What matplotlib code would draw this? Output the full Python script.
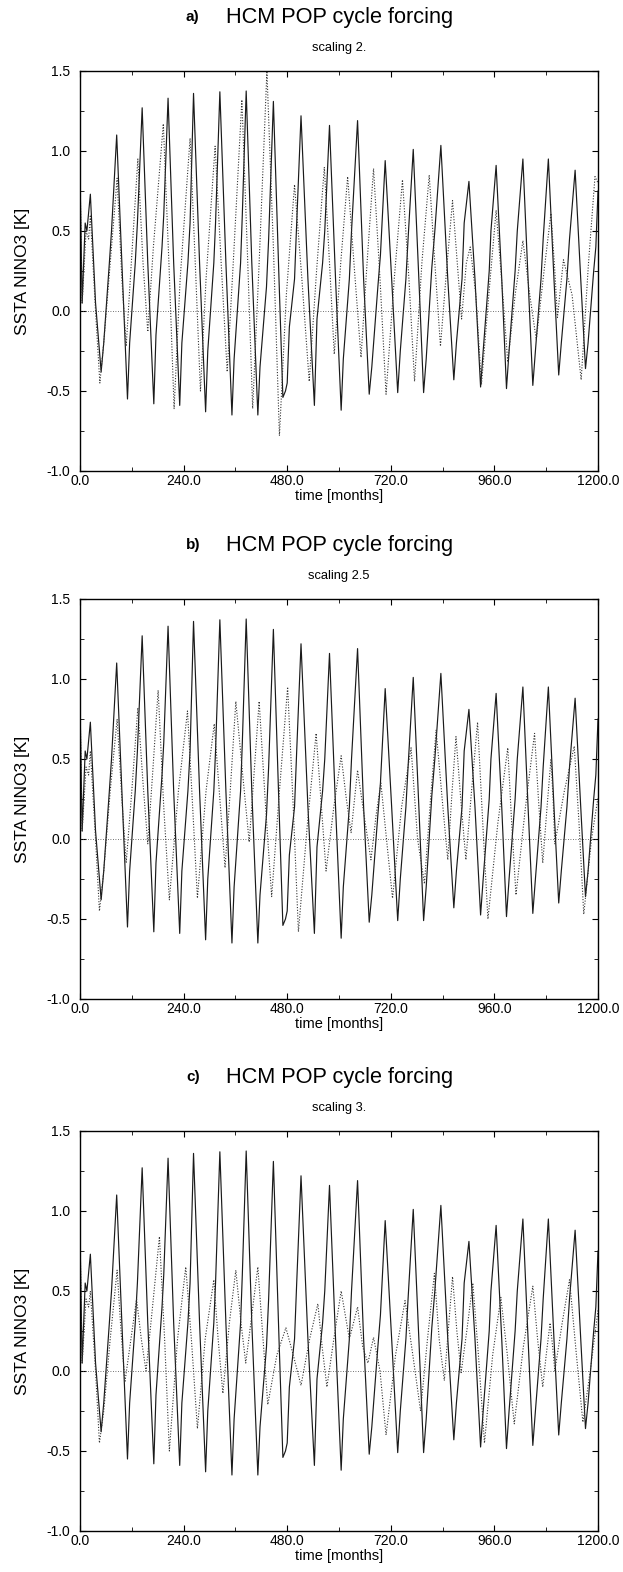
import numpy as np
import matplotlib
matplotlib.use('Agg')
import matplotlib.pyplot as plt
from matplotlib.ticker import MultipleLocator, FormatStrFormatter

plt.rcParams['font.family'] = ['Liberation Sans', 'DejaVu Sans']
plt.rcParams['axes.unicode_minus'] = False

# solid curve (same in all three panels): key points
solid_months = [0, 5, 12, 16, 24, 36, 49, 55, 68, 73, 85, 97, 110, 115, 128, 133, 144, 157,
                171, 176, 190, 194, 204, 217, 231, 236, 250, 255, 263, 277, 291, 296, 310, 314,
                324, 338, 352, 357, 372, 376, 385, 398, 412, 417, 432, 437, 448, 461, 470, 476,
                480, 485, 497, 502, 512, 528, 543, 549, 562, 567, 578, 592, 605, 610, 624, 629,
                643, 657, 670, 676, 690, 696, 707, 722, 736, 742, 755, 760, 772, 785, 796, 802,
                815, 822, 836, 852, 866, 872, 885, 890, 901, 915, 928, 934, 948, 952, 964, 977,
                988, 994, 1008, 1013, 1026, 1038, 1049, 1055, 1068, 1073, 1085, 1098, 1109, 1115,
                1128, 1134, 1147, 1160, 1171, 1177, 1190, 1195, 1200]
solid_ssta = [0.85, 0.05, 0.55, 0.5, 0.73, 0.05, -0.38, -0.2, 0.3, 0.5, 1.1, 0.3, -0.55, -0.2,
              0.3, 0.55, 1.27, 0.3, -0.58, -0.15, 0.4, 0.6, 1.33, 0.3, -0.59, -0.2, 0.3, 0.55,
              1.36, 0.3, -0.63, -0.25, 0.3, 0.55, 1.37, 0.3, -0.65, -0.3, 0.3, 0.6, 1.375, 0.3,
              -0.65, -0.35, 0.15, 0.45, 1.31, 0.2, -0.54, -0.5, -0.45, -0.1, 0.2, 0.55, 1.22,
              0.2, -0.59, -0.05, 0.3, 0.5, 1.16, 0.2, -0.62, -0.3, 0.2, 0.5, 1.19, 0.2, -0.52,
              -0.35, 0.15, 0.35, 0.94, 0.2, -0.51, -0.25, 0.2, 0.45, 1.01, 0.2, -0.51, -0.3,
              0.27, 0.5, 1.035, 0.2, -0.43, -0.2, 0.2, 0.55, 0.81, 0.2, -0.475, -0.25, 0.25,
              0.5, 0.91, 0.2, -0.485, -0.25, 0.25, 0.5, 0.95, 0.2, -0.465, -0.25, 0.2, 0.45,
              0.95, 0.2, -0.40, -0.2, 0.2, 0.45, 0.88, 0.2, -0.36, -0.2, 0.25, 0.4, 0.75]

# dotted curves, one per scaling
dot_a_months = [0, 5, 14, 20, 24, 36, 46, 55, 70, 86, 97, 107, 120, 134, 146, 157, 170, 193,
                206, 218, 232, 255, 267, 279, 292, 313, 327, 341, 355, 375, 388, 400, 415, 433,
                448, 462, 478, 497, 514, 531, 548, 566, 578, 589, 604, 620, 636, 651, 665, 680,
                695, 709, 728, 747, 762, 775, 792, 809, 822, 835, 849, 863, 874, 884, 895, 904,
                917, 930, 947, 964, 978, 991, 1008, 1026, 1042, 1057, 1075, 1091, 1100, 1106,
                1120, 1140, 1161, 1178, 1193, 1200]
dot_a_ssta = [0.85, 0.05, 0.5, 0.45, 0.6, 0.0, -0.45, -0.2, 0.3, 0.83, 0.2, -0.22, 0.35, 0.95,
              0.3, -0.13, 0.4, 1.17, 0.3, -0.61, 0.2, 1.08, 0.3, -0.5, 0.2, 1.03, 0.3, -0.38,
              0.3, 1.32, 0.35, -0.61, 0.3, 1.5, 0.4, -0.78, 0.1, 0.79, 0.2, -0.44, 0.25, 0.9,
              0.3, -0.27, 0.3, 0.84, 0.25, -0.29, 0.3, 0.89, 0.2, -0.52, 0.2, 0.82, 0.2, -0.44,
              0.3, 0.85, 0.3, -0.22, 0.25, 0.69, 0.3, -0.05, 0.3, 0.4, 0.1, -0.46, 0.1, 0.63,
              0.15, -0.32, 0.1, 0.44, 0.1, -0.18, 0.25, 0.61, 0.25, -0.04, 0.32, 0.1, -0.43,
              0.3, 0.84, 0.8]

dot_b_months = [0, 5, 14, 20, 24, 36, 45, 55, 70, 86, 97, 107, 120, 134, 146, 157, 168, 181,
                194, 207, 228, 249, 261, 272, 292, 311, 324, 336, 348, 361, 377, 392, 403, 415,
                430, 444, 462, 481, 494, 506, 527, 547, 558, 570, 588, 605, 617, 628, 636, 643,
                658, 674, 686, 697, 710, 724, 745, 767, 782, 798, 812, 825, 839, 852, 862, 871,
                882, 894, 907, 921, 933, 945, 968, 991, 1000, 1010, 1032, 1053, 1062, 1072,
                1082, 1091, 1096, 1100, 1122, 1145, 1156, 1167, 1185, 1200]
dot_b_ssta = [0.85, 0.05, 0.45, 0.4, 0.55, 0.0, -0.45, -0.2, 0.3, 0.75, 0.25, -0.15, 0.3, 0.82,
              0.35, -0.03, 0.4, 0.93, 0.2, -0.38, 0.3, 0.8, 0.2, -0.37, 0.3, 0.72, 0.25, -0.18,
              0.3, 0.86, 0.4, -0.02, 0.4, 0.86, 0.2, -0.36, 0.3, 0.95, 0.2, -0.58, 0.1, 0.66,
              0.25, -0.2, 0.2, 0.52, 0.25, 0.04, 0.25, 0.43, 0.15, -0.13, 0.15, 0.35, 0.0,
              -0.37, 0.2, 0.57, 0.0, -0.28, 0.25, 0.68, 0.25, -0.13, 0.3, 0.64, 0.25, -0.13,
              0.3, 0.73, 0.1, -0.5, 0.1, 0.57, 0.1, -0.35, 0.2, 0.66, 0.25, -0.15, 0.2, 0.5,
              0.25, -0.03, 0.3, 0.58, 0.1, -0.47, 0.0, 0.26]

dot_c_months = [0, 5, 14, 20, 24, 36, 45, 55, 70, 86, 95, 104, 118, 131, 142, 153, 168, 184,
                196, 207, 226, 245, 258, 272, 290, 310, 320, 331, 346, 361, 373, 384, 398, 412,
                424, 435, 456, 477, 494, 512, 532, 551, 561, 572, 588, 605, 624, 643, 655, 667,
                680, 695, 709, 731, 753, 771, 789, 805, 821, 832, 844, 853, 863, 873, 883, 896,
                910, 923, 937, 956, 975, 990, 1006, 1027, 1049, 1060, 1072, 1080, 1089, 1095,
                1100, 1117, 1134, 1150, 1165, 1182, 1200]
dot_c_ssta = [0.85, 0.05, 0.45, 0.4, 0.5, 0.0, -0.45, -0.25, 0.2, 0.63, 0.25, -0.07, 0.2, 0.45,
              0.2, 0.0, 0.4, 0.84, 0.2, -0.5, 0.2, 0.65, 0.2, -0.36, 0.2, 0.57, 0.2, -0.14,
              0.3, 0.63, 0.3, 0.05, 0.35, 0.65, 0.2, -0.21, 0.1, 0.27, 0.1, -0.09, 0.2, 0.42,
              0.15, -0.1, 0.2, 0.5, 0.2, 0.4, 0.15, 0.05, 0.21, 0.0, -0.4, 0.1, 0.44, 0.1,
              -0.25, 0.2, 0.61, 0.2, -0.06, 0.25, 0.59, 0.25, -0.01, 0.25, 0.55, 0.1, -0.45,
              0.1, 0.46, 0.1, -0.33, 0.15, 0.53, 0.2, -0.1, 0.1, 0.3, 0.15, 0.0, 0.3, 0.57,
              0.1, -0.32, 0.0, 0.38]

panel_letters = ['a)', 'b)', 'c)']
scalings = ['scaling 2.', 'scaling 2.5', 'scaling 3.']
dotted = [(dot_a_months, dot_a_ssta), (dot_b_months, dot_b_ssta), (dot_c_months, dot_c_ssta)]

W, H = 623, 1572
fig = plt.figure(figsize=(W / 100, H / 100), dpi=100)

# axes top / bottom in pixels
boxes = [(71, 471), (599, 999), (1131, 1531)]
left, right = 80, 598

for i, (top, bot) in enumerate(boxes):
    ax = fig.add_axes([left / W, 1 - bot / H, (right - left) / W, (bot - top) / H])
    ax.plot(solid_months, solid_ssta, color='#1a1a1a', lw=0.85)
    ax.plot(dotted[i][0], dotted[i][1], color='#333333', lw=0.8, ls=(0, (1, 1.5)))
    ax.axhline(0, color='#444444', lw=0.6, ls=(0, (1, 2)))
    ax.set_xlim(0, 1200)
    ax.set_ylim(-1.0, 1.5)
    ax.xaxis.set_major_locator(MultipleLocator(240))
    ax.xaxis.set_minor_locator(MultipleLocator(120))
    ax.yaxis.set_major_locator(MultipleLocator(0.5))
    ax.yaxis.set_minor_locator(MultipleLocator(0.25))
    ax.xaxis.set_major_formatter(FormatStrFormatter('%.1f'))
    ax.yaxis.set_major_formatter(FormatStrFormatter('%.1f'))
    ax.tick_params(which='both', direction='in', top=True, right=True, labelsize=10)
    ax.tick_params(axis='x', pad=2)
    ax.tick_params(axis='y', pad=7)
    ax.tick_params(which='major', length=4)
    ax.tick_params(which='minor', length=3)
    for s in ax.spines.values():
        s.set_linewidth(1.0)
    ax.set_xlabel('time [months]', fontsize=10.5, labelpad=1)
    ax.set_ylabel('SSTA NINO3 [K]', fontsize=12.5, labelpad=12)

    fig.text(186 / W, 1 - (top - 54) / H, panel_letters[i], fontsize=11, fontweight='bold',
             va='center', ha='left')
    fig.text(226 / W, 1 - (top - 54) / H, 'HCM POP cycle forcing', fontsize=15.7,
             va='center', ha='left')
    fig.text((left + right) / 2 / W, 1 - (top - 23) / H, scalings[i], fontsize=9.3,
             va='center', ha='center')

fig.savefig('out.png', dpi=100)
